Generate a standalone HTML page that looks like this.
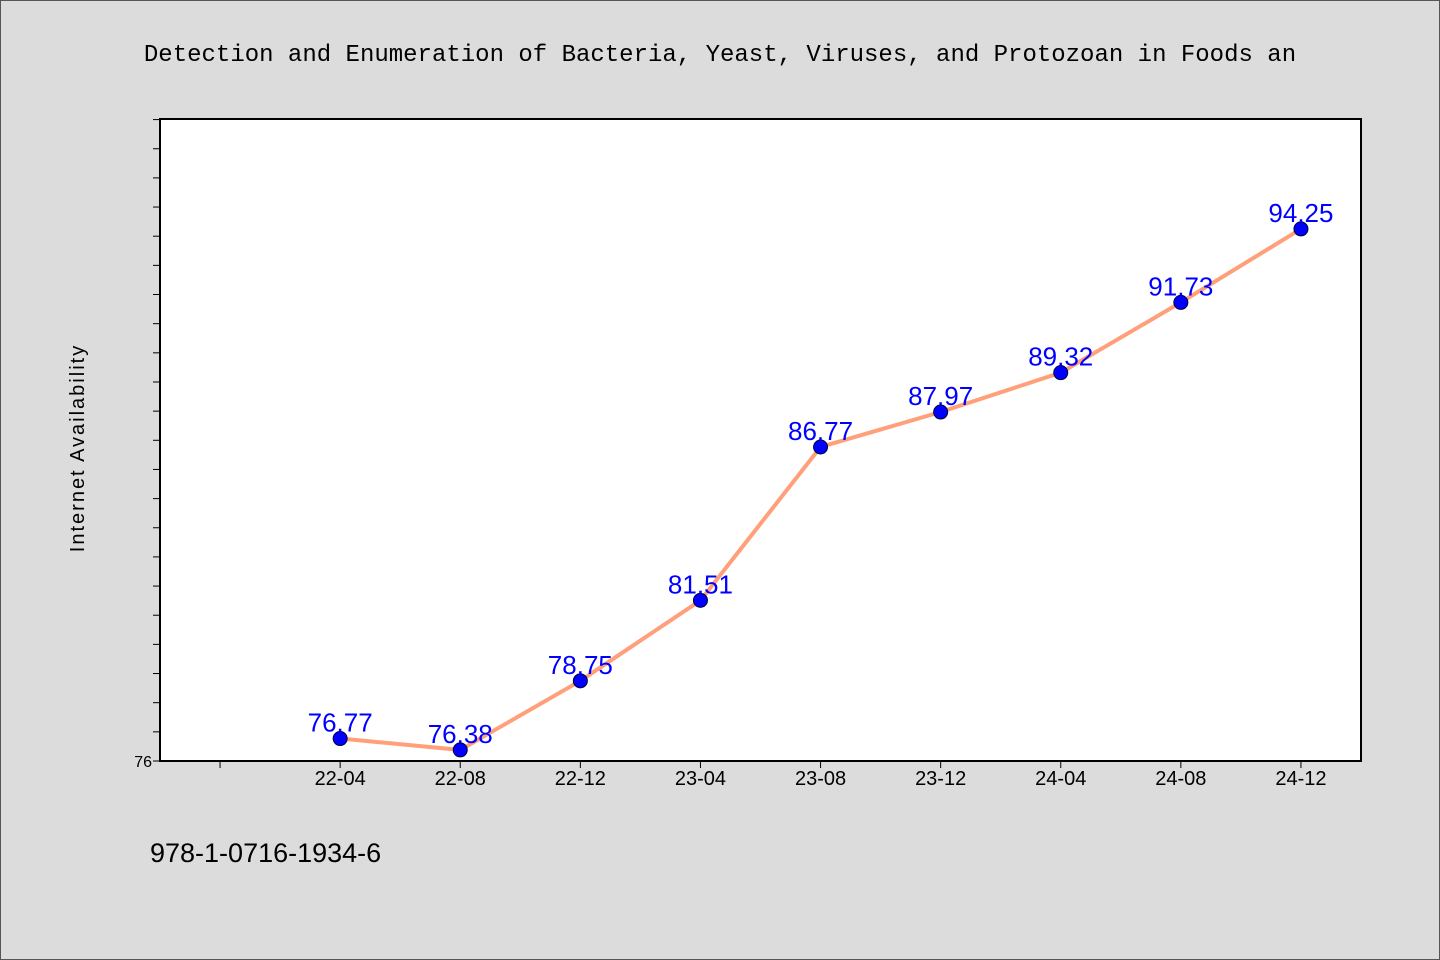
<!DOCTYPE html>
<html><head><meta charset="utf-8"><style>
html,body{margin:0;padding:0;background:#dcdcdc;}
svg{display:block;font-family:"WenQuanYi Zen Hei","Liberation Sans",sans-serif;}
</style></head><body>
<svg id="chart" width="1440" height="960">
<rect x="0.5" y="0.5" width="1439" height="959" fill="#dcdcdc" stroke="#555"/>
<text x="720" y="61" text-anchor="middle" font-size="24" font-family="Liberation Mono, monospace" fill="#000">Detection and Enumeration of Bacteria, Yeast, Viruses, and Protozoan in Foods an</text>
<rect x="160" y="119" width="1201" height="642" fill="#fff" stroke="#000" stroke-width="2"/>
<text transform="translate(84,448) rotate(-90)" text-anchor="middle" font-size="20" letter-spacing="2" fill="#000">Internet Availability</text>
<text x="150" y="862" font-size="27" fill="#000">978-1-0716-1934-6</text>
<g id="axes"></g><g id="marks"></g>
</svg>
<script>
const categories=["","22-04","22-08","22-12","23-04","23-08","23-12","24-04","24-08","24-12"];
const values=[null,76.77,76.38,78.75,81.51,86.77,87.97,89.32,91.73,94.25];
const yTickLabels=["76"];
const yMin=76,yMax=98.02;
const L=160,R=1361,T=119,B=761;
const ns="http://www.w3.org/2000/svg";
const x=i=>L+(R-L)/categories.length*(i+0.5);
const y=v=>B-(v-yMin)/(yMax-yMin)*(B-T);
function mk(t,a,p){const e=document.createElementNS(ns,t);for(const k in a)e.setAttribute(k,a[k]);p.appendChild(e);return e;}
const axes=document.getElementById('axes'),marks=document.getElementById('marks');
for(let v=yMin;v<=yMax;v+=1){
 const t=mk('line',{x1:L-7,x2:L,y1:y(v),y2:y(v),stroke:'#000','stroke-width':1},axes);
 
 
}
yTickLabels.forEach(s=>{const t=mk('text',{x:L-8,y:y(+s)+6,'text-anchor':'end','font-size':16},axes);t.textContent=s;
 
 });
categories.forEach((c,i)=>{
 const t=mk('line',{x1:x(i),x2:x(i),y1:B,y2:B+7,stroke:'#000'},axes);
 
 
 if(c){const l=mk('text',{x:x(i),y:B+24,'text-anchor':'middle','font-size':20},axes);l.textContent=c;
 
 }
});
let d='';values.forEach((v,i)=>{if(v!=null)d+=(d?'L':'M')+x(i)+','+y(v);});
const p=mk('path',{d:d,fill:'none',stroke:'#ffa07a','stroke-width':4},marks);


values.forEach((v,i)=>{if(v==null)return;
 const c=mk('circle',{cx:x(i),cy:y(v),r:7,fill:'#0000ff',stroke:'#000033','stroke-width':1},marks);
 
 
 const t=mk('text',{x:x(i),y:y(v)-7,'text-anchor':'middle','font-size':26,fill:'#0000ff'},marks);t.textContent=v.toFixed(2);
 
 
});
</script>
</body></html>
